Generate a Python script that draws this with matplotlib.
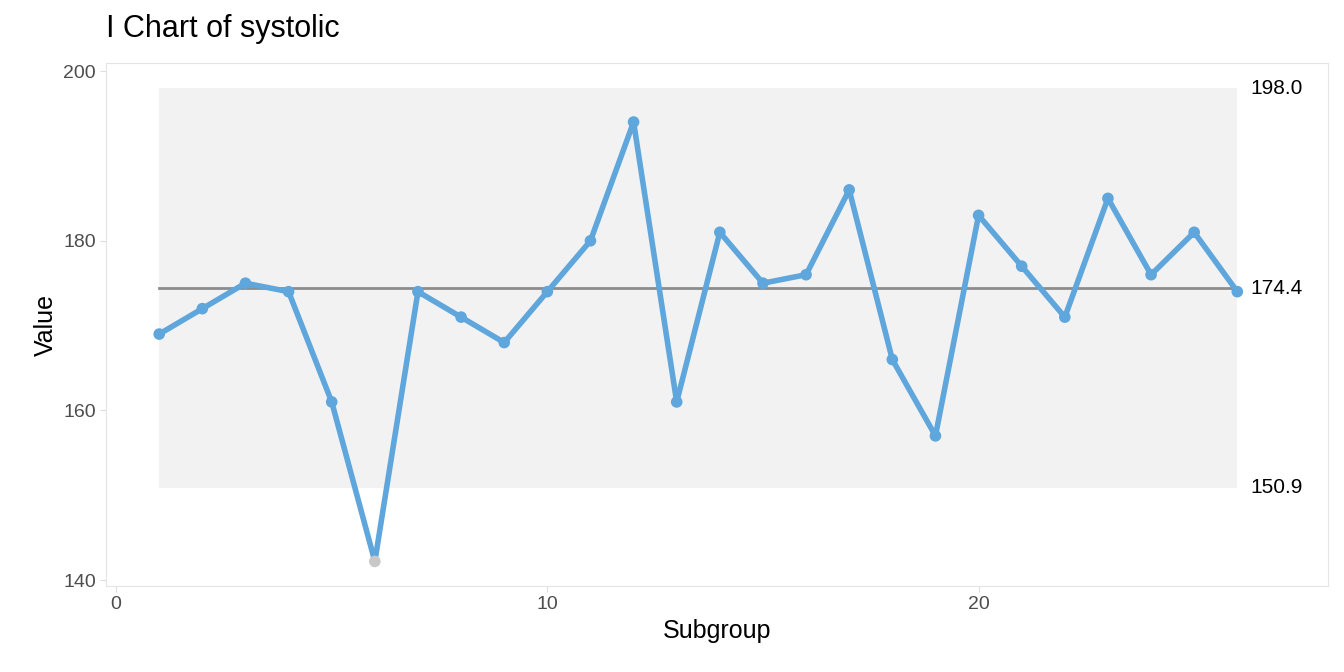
import matplotlib
matplotlib.use("Agg")
import matplotlib.pyplot as plt

subgroup = list(range(1, 27))
values = [169, 172, 175, 174, 161, 142.2, 174, 171, 168, 174, 180, 194, 161,
          181, 175, 176, 186, 166, 157, 183, 177, 171, 185, 176, 181, 174]
center = 174.4
ucl = 198.0
lcl = 150.9

plt.rcParams['font.family'] = ['Liberation Sans', 'DejaVu Sans']
fig = plt.figure(figsize=(13.44, 6.72), dpi=100)
ax = fig.add_axes([0.079, 0.128, 0.909, 0.778])

ax.fill_between([subgroup[0], subgroup[-1]], lcl, ucl, color='#f2f2f2', zorder=0, linewidth=0)
ax.plot([subgroup[0], subgroup[-1]], [center, center], color='#8c8c8c', lw=2, zorder=1)
blue = '#5ea6dc'
ax.plot(subgroup, values, color=blue, lw=4, zorder=2)
colors = ['#c8c8c8' if (v < lcl or v > ucl) else blue for v in values]
ax.scatter(subgroup, values, c=colors, s=70, zorder=3, linewidths=0)

for val in (ucl, center, lcl):
    ax.text(26.3, val, f"{val:.1f}", fontsize=15, va='center', ha='left', color='black')

ax.set_xlim(-0.23, 28.1)
ax.set_ylim(139.3, 200.94)
ax.set_xticks([0, 10, 20])
ax.set_yticks([140, 160, 180, 200])
ax.tick_params(labelsize=14, colors='#4d4d4d', length=4, color='#dddddd')
for s in ax.spines.values():
    s.set_color('#e5e5e5')
ax.set_xlabel("Subgroup", fontsize=18)
ax.set_ylabel("Value", fontsize=18)
fig.text(0.079, 0.935, "I Chart of systolic", fontsize=22, ha='left', va='bottom')
fig.savefig("out.png", dpi=100)
